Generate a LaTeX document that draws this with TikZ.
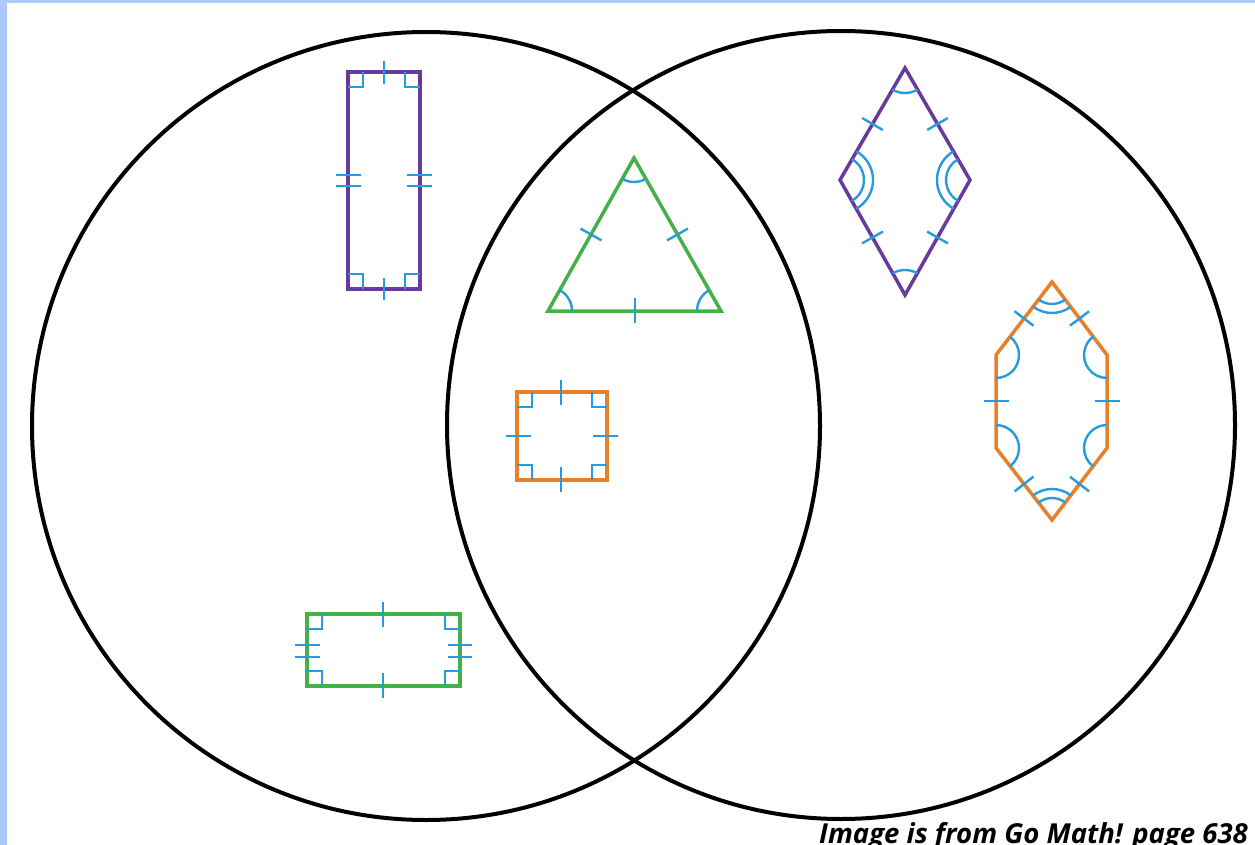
\documentclass[tikz,border=0pt]{standalone}
\usepackage{fontspec}
\newfontfamily\capfont{Open Sans}
\usetikzlibrary{calc,angles}

\definecolor{frameblue}{RGB}{171,202,247}
\definecolor{shapepurple}{RGB}{104,58,156}
\definecolor{shapegreen}{RGB}{67,176,72}
\definecolor{shapeorange}{RGB}{231,128,40}
\definecolor{markblue}{RGB}{40,155,222}

\tikzset{
  ring/.style={line width=4pt, black},
  edge/.style={line width=3.5pt, line join=miter},
  hash/.style={line width=2.4pt, markblue},
  corner/.style={draw=markblue, line width=2.4pt, angle radius=15pt},
  arcmark/.style={draw=markblue, line width=2.4pt, angle radius=#1},
}

\begin{document}
\begin{tikzpicture}[x=1pt, y=-1pt]
    \useasboundingbox (0,0) rectangle (1255,845);
    % Frame strips on the left and top
    \fill[frameblue] (0,0) rectangle (7,845);
    \fill[frameblue] (0,0) rectangle (1255,3);

    % The two circles
    \draw[ring] (426,426) circle[radius=394];
    \draw[ring] (841,425) circle[radius=394];

    % Purple rectangle (left circle, top)
    \coordinate (pa) at (348,72);
    \coordinate (pb) at (420,72);
    \coordinate (pc) at (420,289);
    \coordinate (pd) at (348,289);
    \draw[edge, shapepurple] (pa) -- (pb) -- (pc) -- (pd) -- cycle;
    \pic[corner] {right angle = pb--pa--pd};
    \pic[corner] {right angle = pa--pb--pc};
    \pic[corner] {right angle = pb--pc--pd};
    \pic[corner] {right angle = pc--pd--pa};
    \draw[hash] (384,61) -- (384,84);
    \draw[hash] (384,278) -- (384,300);
    \draw[hash] (336,175) -- (361,175);
    \draw[hash] (336,186) -- (361,186);
    \draw[hash] (407,175) -- (432,175);
    \draw[hash] (407,186) -- (432,186);

    % Green rectangle (left circle, bottom)
    \coordinate (ga) at (307,614);
    \coordinate (gb) at (460,614);
    \coordinate (gc) at (460,686);
    \coordinate (gd) at (307,686);
    \draw[edge, shapegreen] (ga) -- (gb) -- (gc) -- (gd) -- cycle;
    \pic[corner] {right angle = gb--ga--gd};
    \pic[corner] {right angle = ga--gb--gc};
    \pic[corner] {right angle = gb--gc--gd};
    \pic[corner] {right angle = gc--gd--ga};
    \draw[hash] (383,602) -- (383,627);
    \draw[hash] (383,673) -- (383,698);
    \draw[hash] (295,645) -- (320,645);
    \draw[hash] (295,657) -- (320,657);
    \draw[hash] (448,645) -- (472,645);
    \draw[hash] (448,657) -- (472,657);

    % Green triangle (overlap)
    \coordinate (tt) at (634,158);
    \coordinate (tl) at (548,311);
    \coordinate (tr) at (721,311);
    \draw[edge, shapegreen] (tt) -- (tr) -- (tl) -- cycle;
    \pic[arcmark=24pt] {angle = tl--tt--tr};
    \pic[arcmark=24pt] {angle = tr--tl--tt};
    \pic[arcmark=24pt] {angle = tt--tr--tl};
    \draw[hash] ($(tt)!0.5!(tl)!12pt!90:(tl)$) -- ($(tt)!0.5!(tl)!12pt!-90:(tl)$);
    \draw[hash] ($(tt)!0.5!(tr)!12pt!90:(tr)$) -- ($(tt)!0.5!(tr)!12pt!-90:(tr)$);
    \draw[hash] (635,298) -- (635,323);

    % Orange square (overlap)
    \coordinate (sa) at (517,392);
    \coordinate (sb) at (607,392);
    \coordinate (sc) at (607,480);
    \coordinate (sd) at (517,480);
    \draw[edge, shapeorange] (sa) -- (sb) -- (sc) -- (sd) -- cycle;
    \pic[corner] {right angle = sb--sa--sd};
    \pic[corner] {right angle = sa--sb--sc};
    \pic[corner] {right angle = sb--sc--sd};
    \pic[corner] {right angle = sc--sd--sa};
    \draw[hash] (561,380) -- (561,405);
    \draw[hash] (561,467) -- (561,492);
    \draw[hash] (506,436) -- (531,436);
    \draw[hash] (593,436) -- (618,436);

    % Purple rhombus (right circle, top)
    \coordinate (rt) at (905,68);
    \coordinate (rr) at (970,180);
    \coordinate (rb) at (905,295);
    \coordinate (rl) at (840,180);
    \draw[edge, shapepurple] (rt) -- (rr) -- (rb) -- (rl) -- cycle;
    \pic[arcmark=25pt] {angle = rl--rt--rr};
    \pic[arcmark=25pt] {angle = rr--rb--rl};
    \pic[arcmark=24pt] {angle = rb--rl--rt};
    \pic[arcmark=33pt] {angle = rb--rl--rt};
    \pic[arcmark=24pt] {angle = rt--rr--rb};
    \pic[arcmark=33pt] {angle = rt--rr--rb};
    \draw[hash] ($(rt)!0.5!(rl)!12pt!90:(rl)$) -- ($(rt)!0.5!(rl)!12pt!-90:(rl)$);
    \draw[hash] ($(rt)!0.5!(rr)!12pt!90:(rr)$) -- ($(rt)!0.5!(rr)!12pt!-90:(rr)$);
    \draw[hash] ($(rb)!0.5!(rl)!12pt!90:(rl)$) -- ($(rb)!0.5!(rl)!12pt!-90:(rl)$);
    \draw[hash] ($(rb)!0.5!(rr)!12pt!90:(rr)$) -- ($(rb)!0.5!(rr)!12pt!-90:(rr)$);

    % Orange hexagon (right circle, middle)
    \coordinate (h1) at (1052,282);
    \coordinate (h2) at (1107,355);
    \coordinate (h3) at (1107,448);
    \coordinate (h4) at (1052,520);
    \coordinate (h5) at (996,448);
    \coordinate (h6) at (996,355);
    \draw[edge, shapeorange] (h1) -- (h2) -- (h3) -- (h4) -- (h5) -- (h6) -- cycle;
    \pic[arcmark=22pt] {angle = h6--h1--h2};
    \pic[arcmark=31pt] {angle = h6--h1--h2};
    \pic[arcmark=22pt] {angle = h3--h4--h5};
    \pic[arcmark=31pt] {angle = h3--h4--h5};
    \pic[arcmark=23pt] {angle = h1--h2--h3};
    \pic[arcmark=23pt] {angle = h2--h3--h4};
    \pic[arcmark=23pt] {angle = h4--h5--h6};
    \pic[arcmark=23pt] {angle = h5--h6--h1};
    \draw[hash] ($(h1)!0.5!(h6)!12pt!90:(h6)$) -- ($(h1)!0.5!(h6)!12pt!-90:(h6)$);
    \draw[hash] ($(h1)!0.5!(h2)!12pt!90:(h2)$) -- ($(h1)!0.5!(h2)!12pt!-90:(h2)$);
    \draw[hash] ($(h4)!0.5!(h5)!12pt!90:(h5)$) -- ($(h4)!0.5!(h5)!12pt!-90:(h5)$);
    \draw[hash] ($(h4)!0.5!(h3)!12pt!90:(h3)$) -- ($(h4)!0.5!(h3)!12pt!-90:(h3)$);
    \draw[hash] (984,401) -- (1009,401);
    \draw[hash] (1095,401) -- (1120,401);

    % Source line
    \node[anchor=base west, inner sep=0pt, font=\capfont\bfseries\itshape\fontsize{27.5}{32}\selectfont] (credit) at (819,843) {Image is from Go Math! page 638};
\end{tikzpicture}
\end{document}
